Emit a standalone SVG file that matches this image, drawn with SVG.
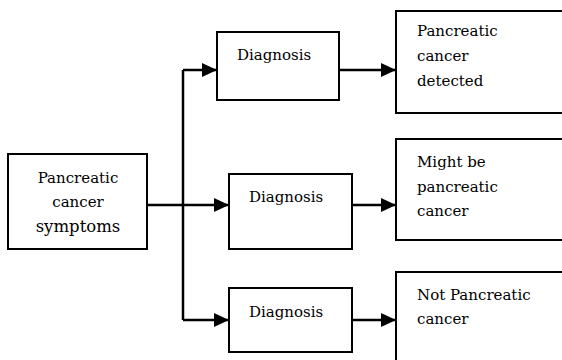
<svg xmlns="http://www.w3.org/2000/svg" width="562" height="360" viewBox="0 0 562 360">
<style>
.box{fill:#fff;stroke:#000;stroke-width:2}
.c{text-anchor:middle}
.con{fill:none;stroke:#000;stroke-width:2.5}
</style>
<defs>
<marker id="ah" markerUnits="userSpaceOnUse" markerWidth="15" markerHeight="14" refX="15" refY="7" orient="auto" viewBox="0 0 15 14">
<path d="M0,0 L15,7 L0,14 z" fill="#000"/>
</marker>
</defs>
<rect width="562" height="360" fill="#fff"/>
<g id="connectors">
<path class="con" d="M147,205 H183"/>
<path class="con" d="M183,70 V320"/>
<path class="con" d="M183,70 H217" marker-end="url(#ah)"/>
<path class="con" d="M183,205 H229" marker-end="url(#ah)"/>
<path class="con" d="M183,320 H229" marker-end="url(#ah)"/>
<path class="con" d="M340,70 H396" marker-end="url(#ah)"/>
<path class="con" d="M352,205 H396" marker-end="url(#ah)"/>
<path class="con" d="M352,320 H396" marker-end="url(#ah)"/>
</g>
<g font-family="DejaVu Serif, Liberation Serif, serif" font-size="15" fill="#000">
<g id="symptoms">
<rect class="box" x="8" y="154" width="139" height="95"/>
<text class="c" x="78" y="183">Pancreatic</text>
<text class="c" x="78" y="207">cancer</text>
<text class="c" x="78" y="232" font-size="16.5">symptoms</text>
</g>
<g id="diag1">
<rect class="box" x="217" y="32" width="122" height="68"/>
<text x="237" y="60">Diagnosis</text>
</g>
<g id="diag2">
<rect class="box" x="229" y="174" width="123" height="75"/>
<text x="249" y="202">Diagnosis</text>
</g>
<g id="diag3">
<rect class="box" x="229" y="288" width="123" height="64"/>
<text x="249" y="317">Diagnosis</text>
</g>
<g id="detected">
<rect class="box" x="396" y="11" width="180" height="102"/>
<text x="417" y="36">Pancreatic</text>
<text x="417" y="61">cancer</text>
<text x="417" y="86">detected</text>
</g>
<g id="might">
<rect class="box" x="396" y="139" width="180" height="101"/>
<text x="417" y="167">Might be</text>
<text x="417" y="192">pancreatic</text>
<text x="417" y="216">cancer</text>
</g>
<g id="notpc">
<rect class="box" x="396" y="272" width="180" height="100"/>
<text x="417" y="300">Not Pancreatic</text>
<text x="417" y="324">cancer</text>
</g>
</g>
</svg>
